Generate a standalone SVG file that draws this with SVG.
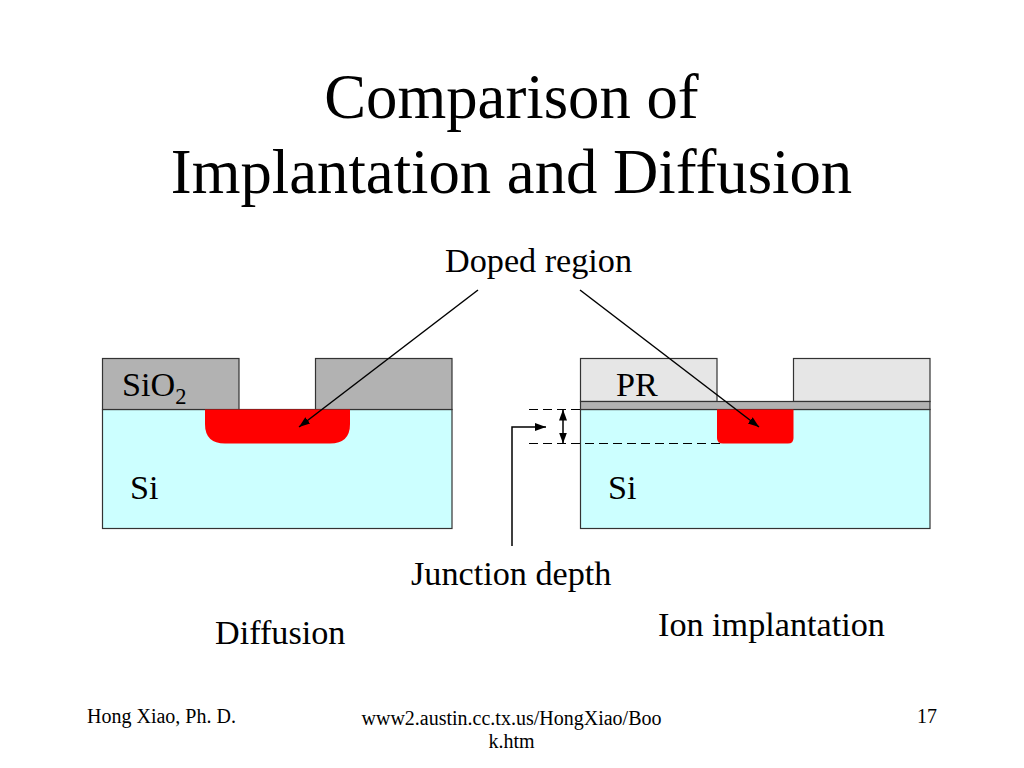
<svg xmlns="http://www.w3.org/2000/svg" width="1024" height="768" viewBox="0 0 1024 768">
<style>
text{font-family:"Liberation Serif","Times New Roman",serif;fill:#000}
.t{font-size:62.700px;text-anchor:middle}
.l{font-size:34.200px}
.f{font-size:20px}
.s{stroke:#333;stroke-width:1.2}
.c{fill:none;stroke:#000;stroke-width:1.5}
.d{fill:none;stroke:#000;stroke-width:1.2;stroke-dasharray:9 5}
</style>
<defs>
<marker id="a" markerUnits="userSpaceOnUse" markerWidth="12" markerHeight="10" refX="11" refY="4" orient="auto-start-reverse"><path d="M0 0L11 4L0 8Z" fill="#000"/></marker>
</defs>
<rect width="1024" height="768" fill="#fff"/>
<text class="t" x="511.500" y="118">Comparison of</text>
<text class="t" x="511.500" y="193">Implantation and Diffusion</text>
<g id="diffusion">
<rect id="si-left" class="s" x="102.500" y="409.500" width="349.500" height="119" fill="#ccffff"/>
<rect id="sio2-left" class="s" x="102.500" y="358.500" width="136.500" height="51" fill="#b2b2b2"/>
<rect id="sio2-right" class="s" x="315.500" y="358.500" width="136.500" height="51" fill="#b2b2b2"/>
<path id="doped-left" d="M205 409.500H350V424Q350 443.500 330 443.500H225Q205 443.500 205 424Z" fill="#f00"/>
<text class="l" x="122" y="396">SiO<tspan font-size="22.500" dy="8">2</tspan></text>
<text class="l" x="130" y="499">Si</text>
</g>
<g id="implantation">
<rect id="si-right" class="s" x="580.500" y="409.500" width="349.500" height="119" fill="#ccffff"/>
<rect id="pr-left" class="s" x="580.500" y="358.500" width="136.500" height="43" fill="#e6e6e6"/>
<rect id="pr-right" class="s" x="793.500" y="358.500" width="136.500" height="43" fill="#e6e6e6"/>
<rect id="oxide" class="s" x="580.500" y="401.500" width="349.500" height="8" fill="#b2b2b2"/>
<path id="doped-right" d="M717 409.500H793.500V438Q793.500 443.500 788 443.500H723Q717 443.500 717 438Z" fill="#f00"/>
<text class="l" x="616" y="396">PR</text>
<text class="l" x="608" y="499">Si</text>
</g>
<g id="connectors">
<path class="c" d="M478 290L299 427" marker-end="url(#a)"/>
<path class="c" d="M580 290L759 427" marker-end="url(#a)"/>
<path class="d" d="M529 409.500H580"/>
<path class="d" d="M529 443.500H722"/>
<path class="c" d="M563 409.500V443.500" marker-start="url(#a)" marker-end="url(#a)"/>
<path class="c" d="M512 546V427H546" marker-end="url(#a)"/>
</g>
<g id="labels">
<text class="l" x="445" y="272">Doped region</text>
<text class="l" x="411" y="585">Junction depth</text>
<text class="l" x="215" y="644">Diffusion</text>
<text class="l" x="658" y="636">Ion implantation</text>
</g>
<g id="footer">
<text class="f" x="87" y="723">Hong Xiao, Ph. D.</text>
<text class="f" x="511.500" y="725" text-anchor="middle">www2.austin.cc.tx.us/HongXiao/Boo</text>
<text class="f" x="511.500" y="748" text-anchor="middle">k.htm</text>
<text class="f" x="917" y="723">17</text>
</g>
</svg>
